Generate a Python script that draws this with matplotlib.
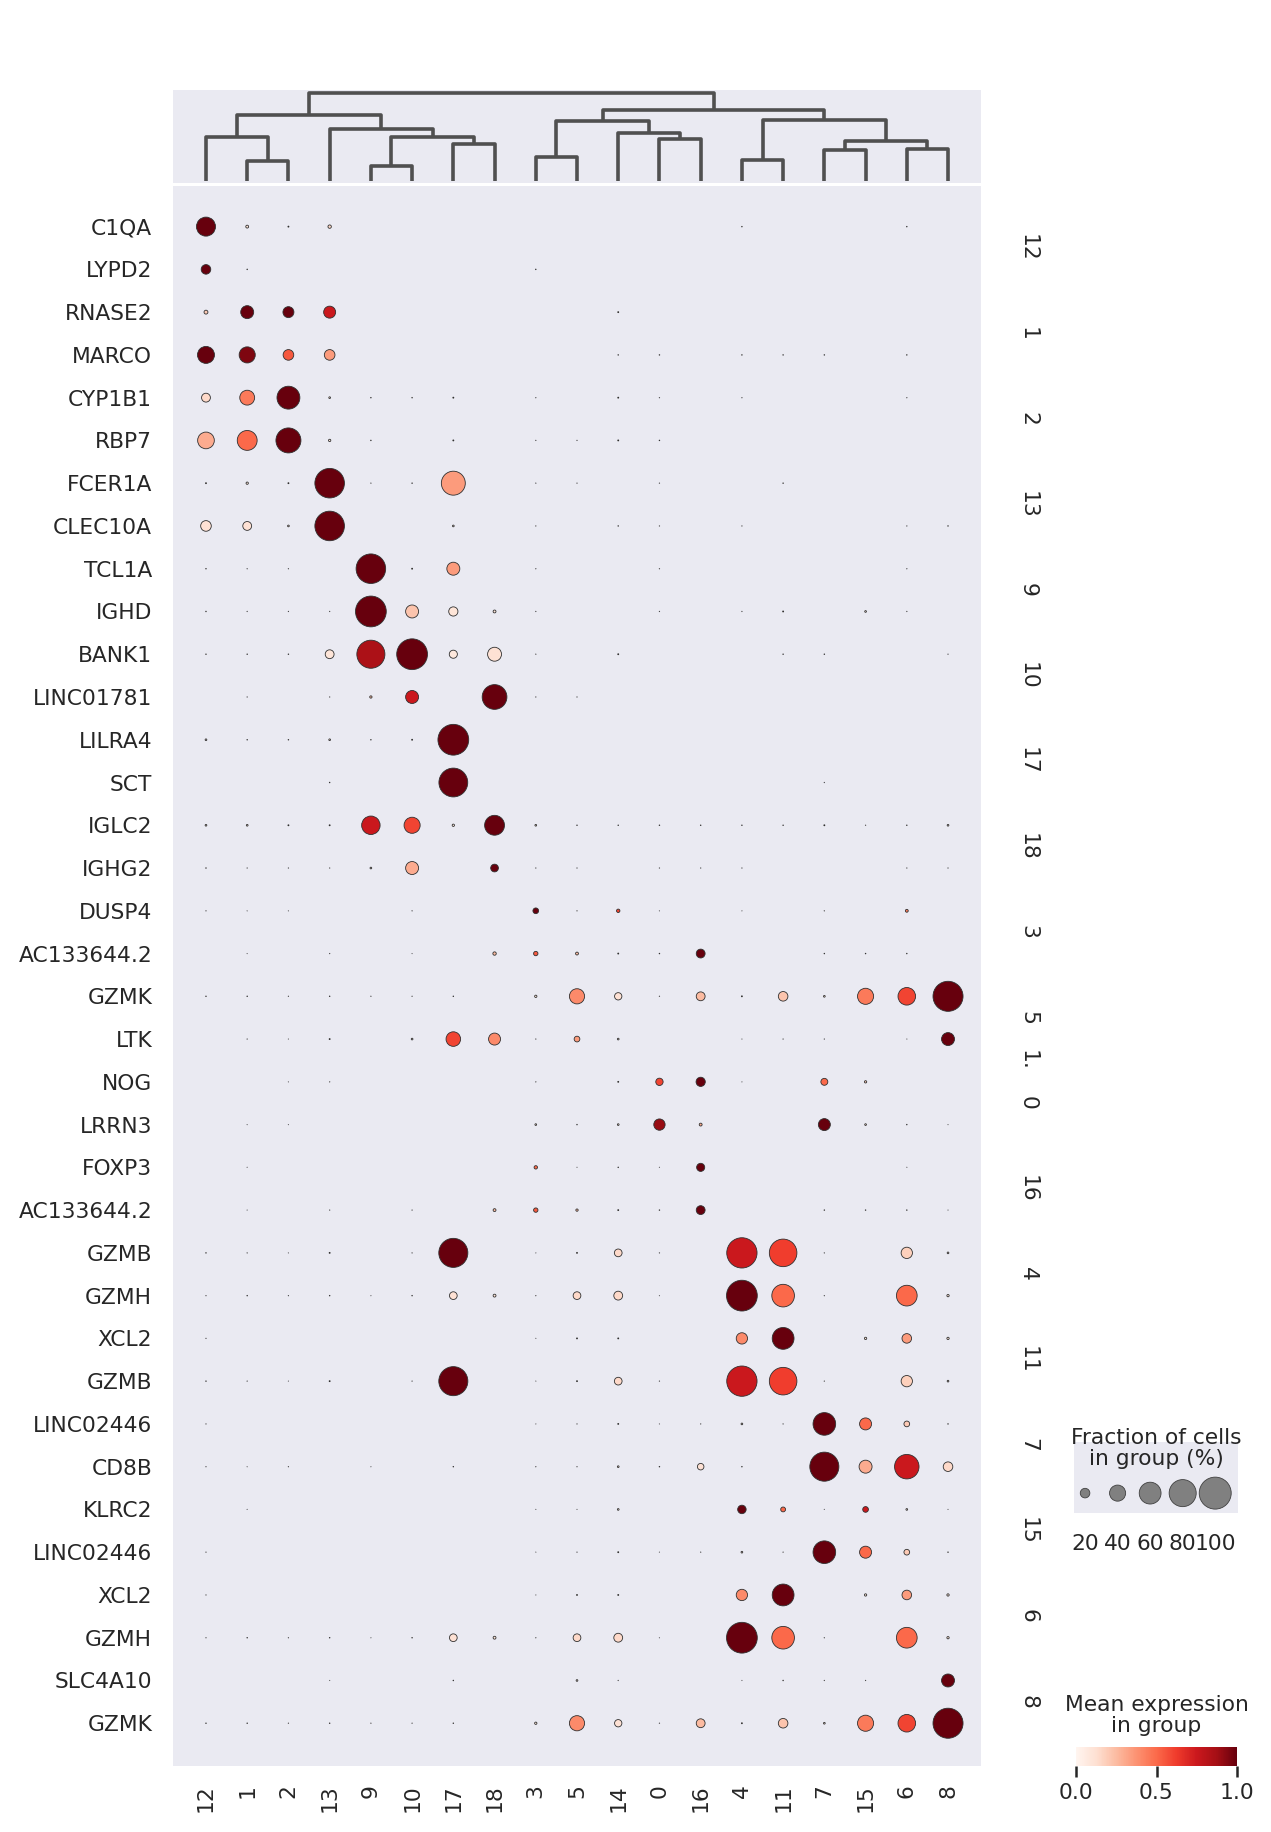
import numpy as np
import matplotlib.pyplot as plt
from matplotlib import cm, colors as mcolors
from matplotlib.transforms import blended_transform_factory

# Data
clusters = ['12', '1', '2', '13', '9', '10', '17', '18', '3', '5',
            '14', '0', '16', '4', '11', '7', '15', '6', '8']

genes = ['C1QA', 'LYPD2', 'RNASE2', 'MARCO', 'CYP1B1', 'RBP7', 'FCER1A', 'CLEC10A',
         'TCL1A', 'IGHD', 'BANK1', 'LINC01781', 'LILRA4', 'SCT', 'IGLC2', 'IGHG2',
         'DUSP4', 'AC133644.2', 'GZMK', 'LTK', 'NOG', 'LRRN3', 'FOXP3', 'AC133644.2',
         'GZMB', 'GZMH', 'XCL2', 'GZMB', 'LINC02446', 'CD8B', 'KLRC2', 'LINC02446',
         'XCL2', 'GZMH', 'SLC4A10', 'GZMK']

# fraction of cells expressing (0-1), columns in the order of `clusters`
fraction = [
    [0.50, 0.04, 0.01, 0.05, 0, 0, 0, 0, 0, 0, 0, 0, 0, 0.005, 0, 0, 0, 0.005, 0],
    [0.20, 0.005, 0, 0, 0, 0, 0, 0, 0.005, 0, 0, 0, 0, 0, 0, 0, 0, 0, 0],
    [0.06, 0.30, 0.24, 0.27, 0, 0, 0, 0, 0, 0, 0.01, 0, 0, 0, 0, 0, 0, 0, 0],
    [0.43, 0.40, 0.23, 0.23, 0, 0, 0, 0, 0, 0, 0.005, 0.005, 0, 0.005, 0.005, 0.005, 0, 0.005, 0],
    [0.18, 0.36, 0.64, 0.02, 0.005, 0.005, 0.01, 0, 0.003, 0, 0.01, 0.003, 0, 0.003, 0, 0, 0, 0.003, 0],
    [0.42, 0.53, 0.72, 0.03, 0.005, 0, 0.01, 0, 0.003, 0.003, 0.01, 0.005, 0, 0, 0, 0, 0, 0, 0],
    [0.01, 0.03, 0.01, 0.90, 0.003, 0.005, 0.68, 0, 0.003, 0.003, 0, 0.003, 0, 0, 0.005, 0, 0, 0, 0],
    [0.23, 0.18, 0.02, 0.90, 0, 0, 0.02, 0, 0.003, 0, 0.005, 0.003, 0, 0.003, 0, 0, 0, 0.003, 0.005],
    [0.005, 0.003, 0.003, 0, 0.90, 0.01, 0.30, 0, 0.003, 0, 0, 0.003, 0, 0, 0, 0, 0, 0.003, 0],
    [0.005, 0.003, 0.003, 0.003, 0.95, 0.30, 0.19, 0.04, 0.003, 0, 0, 0.003, 0, 0.003, 0.01, 0, 0.02, 0.003, 0],
    [0.005, 0.005, 0.005, 0.18, 0.84, 0.95, 0.16, 0.33, 0.003, 0, 0.01, 0, 0, 0, 0.005, 0.005, 0, 0, 0.003],
    [0, 0.003, 0, 0.003, 0.03, 0.30, 0, 0.71, 0.003, 0.003, 0, 0, 0, 0, 0, 0, 0, 0, 0],
    [0.02, 0.005, 0.005, 0.02, 0.005, 0.01, 0.95, 0, 0, 0, 0, 0, 0, 0, 0, 0, 0, 0, 0],
    [0, 0, 0, 0.005, 0, 0, 0.87, 0, 0, 0, 0, 0, 0, 0, 0, 0.003, 0, 0, 0],
    [0.02, 0.02, 0.01, 0.01, 0.48, 0.40, 0.03, 0.53, 0.02, 0.005, 0.005, 0.005, 0.005, 0.005, 0.005, 0.01, 0.003, 0.005, 0.02],
    [0.005, 0.003, 0.003, 0.003, 0.02, 0.30, 0, 0.15, 0.003, 0.003, 0, 0.003, 0.003, 0.003, 0, 0, 0, 0.003, 0.003],
    [0.003, 0.002, 0.002, 0, 0, 0.003, 0, 0, 0.10, 0.003, 0.05, 0.002, 0, 0.002, 0, 0.003, 0, 0.04, 0],
    [0, 0.002, 0, 0.003, 0, 0.002, 0, 0.05, 0.07, 0.04, 0.01, 0.005, 0.18, 0, 0, 0.005, 0.005, 0.005, 0],
    [0.005, 0.005, 0.003, 0.005, 0.003, 0.003, 0.005, 0, 0.03, 0.37, 0.14, 0.003, 0.18, 0.01, 0.20, 0.02, 0.40, 0.45, 0.92],
    [0, 0.003, 0.002, 0.01, 0, 0.02, 0.35, 0.27, 0.003, 0.10, 0.02, 0, 0, 0.002, 0.003, 0.003, 0, 0.002, 0.30],
    [0, 0, 0.002, 0.003, 0, 0, 0, 0, 0.003, 0, 0.01, 0.14, 0.19, 0.002, 0, 0.13, 0.03, 0, 0],
    [0, 0.002, 0.002, 0, 0, 0, 0, 0, 0.02, 0.005, 0.02, 0.25, 0.04, 0, 0, 0.27, 0.02, 0.005, 0.002],
    [0, 0.002, 0, 0, 0, 0, 0, 0, 0.05, 0.002, 0.005, 0.002, 0.16, 0, 0, 0, 0, 0.002, 0],
    [0, 0.002, 0, 0.003, 0, 0.003, 0, 0.04, 0.07, 0.03, 0.01, 0.005, 0.18, 0, 0, 0.005, 0.005, 0.005, 0.002],
    [0.005, 0.003, 0.002, 0.01, 0, 0.003, 0.88, 0, 0.002, 0.01, 0.15, 0.003, 0, 0.93, 0.82, 0.003, 0, 0.25, 0.02],
    [0.003, 0.005, 0.003, 0.005, 0.002, 0.005, 0.15, 0.04, 0.003, 0.15, 0.18, 0.002, 0, 0.95, 0.63, 0.003, 0, 0.56, 0.03],
    [0.003, 0, 0, 0, 0, 0, 0, 0, 0.002, 0.01, 0.01, 0, 0, 0.25, 0.60, 0, 0.03, 0.20, 0.03],
    [0.005, 0.003, 0.002, 0.01, 0, 0.003, 0.88, 0, 0.002, 0.01, 0.15, 0.003, 0, 0.93, 0.82, 0.003, 0, 0.25, 0.02],
    [0.003, 0, 0, 0, 0, 0, 0, 0, 0.002, 0.003, 0.01, 0.002, 0.003, 0.02, 0.003, 0.63, 0.27, 0.10, 0.005],
    [0.003, 0.002, 0.003, 0, 0.002, 0, 0.005, 0, 0.003, 0.003, 0.02, 0.005, 0.12, 0.005, 0, 0.88, 0.30, 0.70, 0.20],
    [0, 0.002, 0, 0, 0, 0, 0, 0, 0.002, 0.002, 0.02, 0, 0, 0.17, 0.08, 0.002, 0.10, 0.02, 0.002],
    [0.003, 0, 0, 0, 0, 0, 0, 0, 0.002, 0.003, 0.01, 0.002, 0.003, 0.02, 0.003, 0.63, 0.27, 0.10, 0.005],
    [0.003, 0, 0, 0, 0, 0, 0, 0, 0.002, 0.01, 0.01, 0, 0, 0.25, 0.60, 0, 0.03, 0.20, 0.03],
    [0.003, 0.005, 0.003, 0.005, 0.002, 0.005, 0.15, 0.04, 0.003, 0.15, 0.18, 0.002, 0, 0.95, 0.63, 0.003, 0, 0.56, 0.03],
    [0, 0, 0, 0.002, 0, 0, 0.005, 0, 0, 0.02, 0.003, 0, 0, 0.002, 0.005, 0.003, 0.003, 0, 0.30],
    [0.005, 0.005, 0.003, 0.005, 0.003, 0.003, 0.005, 0, 0.03, 0.37, 0.14, 0.003, 0.18, 0.01, 0.20, 0.02, 0.40, 0.45, 0.92],
]

# scaled mean expression (0-1)
mean_expr = [
    [1.0, 0.1, 0.05, 0.15, 0, 0, 0, 0, 0, 0, 0, 0, 0, 0.05, 0, 0, 0, 0.05, 0],
    [1.0, 0.05, 0, 0, 0, 0, 0, 0, 0.05, 0, 0, 0, 0, 0, 0, 0, 0, 0, 0],
    [0.2, 1.0, 1.0, 0.75, 0, 0, 0, 0, 0, 0, 0.05, 0, 0, 0, 0, 0, 0, 0, 0],
    [1.0, 0.95, 0.55, 0.35, 0, 0, 0, 0, 0, 0, 0.05, 0.05, 0, 0.05, 0.05, 0.05, 0, 0.05, 0],
    [0.15, 0.45, 1.0, 0.1, 0.05, 0.05, 0.05, 0, 0.05, 0, 0.05, 0.05, 0, 0.05, 0, 0, 0, 0.05, 0],
    [0.3, 0.5, 1.0, 0.1, 0.05, 0, 0.05, 0, 0.05, 0.05, 0.05, 0.05, 0, 0, 0, 0, 0, 0, 0],
    [0.05, 0.1, 0.05, 1.0, 0.05, 0.05, 0.35, 0, 0.05, 0.05, 0, 0.05, 0, 0, 0.05, 0, 0, 0, 0],
    [0.12, 0.12, 0.1, 1.0, 0, 0, 0.1, 0, 0.05, 0, 0.05, 0.05, 0, 0.05, 0, 0, 0, 0.05, 0.05],
    [0.05, 0.05, 0.05, 0, 1.0, 0.05, 0.35, 0, 0.05, 0, 0, 0.05, 0, 0, 0, 0, 0, 0.05, 0],
    [0.05, 0.05, 0.05, 0.05, 1.0, 0.22, 0.1, 0.1, 0.05, 0, 0, 0.05, 0, 0.05, 0.05, 0, 0.05, 0.05, 0],
    [0.05, 0.05, 0.05, 0.1, 0.85, 1.0, 0.08, 0.12, 0.05, 0, 0.05, 0, 0, 0, 0.05, 0.05, 0, 0, 0.05],
    [0, 0.05, 0, 0.05, 0.25, 0.75, 0, 1.0, 0.05, 0.05, 0, 0, 0, 0, 0, 0, 0, 0, 0],
    [0.1, 0.05, 0.05, 0.1, 0.05, 0.05, 1.0, 0, 0, 0, 0, 0, 0, 0, 0, 0, 0, 0, 0],
    [0, 0, 0, 0.05, 0, 0, 1.0, 0, 0, 0, 0, 0, 0, 0, 0, 0.05, 0, 0, 0],
    [0.1, 0.1, 0.05, 0.05, 0.75, 0.6, 0.1, 1.0, 0.1, 0.05, 0.05, 0.05, 0.05, 0.05, 0.05, 0.05, 0.05, 0.05, 0.1],
    [0.05, 0.05, 0.05, 0.05, 0.1, 0.3, 0, 1.0, 0.05, 0.05, 0, 0.05, 0.05, 0.05, 0, 0, 0, 0.05, 0.05],
    [0.05, 0.05, 0.05, 0, 0, 0.05, 0, 0, 1.0, 0.05, 0.6, 0.05, 0, 0.05, 0, 0.05, 0, 0.45, 0],
    [0, 0.05, 0, 0.05, 0, 0.05, 0, 0.25, 0.55, 0.25, 0.05, 0.05, 1.0, 0, 0, 0.05, 0.05, 0.05, 0],
    [0.05, 0.05, 0.05, 0.05, 0.05, 0.05, 0.05, 0, 0.1, 0.4, 0.12, 0.05, 0.25, 0.05, 0.22, 0.1, 0.45, 0.6, 1.0],
    [0, 0.05, 0.05, 0.05, 0, 0.1, 0.6, 0.4, 0.05, 0.35, 0.1, 0, 0, 0.05, 0.05, 0.05, 0, 0.05, 1.0],
    [0, 0, 0.05, 0.05, 0, 0, 0, 0, 0.05, 0, 0.05, 0.6, 1.0, 0.05, 0, 0.5, 0.2, 0, 0],
    [0, 0.05, 0.05, 0, 0, 0, 0, 0, 0.1, 0.05, 0.1, 0.9, 0.3, 0, 0, 1.0, 0.1, 0.05, 0.05],
    [0, 0.05, 0, 0, 0, 0, 0, 0, 0.5, 0.05, 0.05, 0.05, 1.0, 0, 0, 0, 0, 0.05, 0],
    [0, 0.05, 0, 0.05, 0, 0.05, 0, 0.25, 0.55, 0.25, 0.05, 0.05, 1.0, 0, 0, 0.05, 0.05, 0.05, 0.05],
    [0.05, 0.05, 0.05, 0.05, 0, 0.05, 1.0, 0, 0.05, 0.05, 0.15, 0.05, 0, 0.75, 0.62, 0.05, 0, 0.18, 0.1],
    [0.05, 0.05, 0.05, 0.05, 0.05, 0.05, 0.12, 0.1, 0.05, 0.15, 0.15, 0.05, 0, 1.0, 0.5, 0.05, 0, 0.5, 0.1],
    [0.05, 0, 0, 0, 0, 0, 0, 0, 0.05, 0.05, 0.05, 0, 0, 0.4, 1.0, 0, 0.1, 0.35, 0.1],
    [0.05, 0.05, 0.05, 0.05, 0, 0.05, 1.0, 0, 0.05, 0.05, 0.15, 0.05, 0, 0.75, 0.62, 0.05, 0, 0.18, 0.1],
    [0.05, 0, 0, 0, 0, 0, 0, 0, 0.05, 0.05, 0.05, 0.05, 0.05, 0.1, 0.05, 1.0, 0.5, 0.2, 0.05],
    [0.05, 0.05, 0.05, 0, 0.05, 0, 0.05, 0, 0.05, 0.05, 0.1, 0.05, 0.12, 0.05, 0, 1.0, 0.3, 0.75, 0.15],
    [0, 0.05, 0, 0, 0, 0, 0, 0, 0.05, 0.05, 0.1, 0, 0, 1.0, 0.5, 0.05, 0.75, 0.1, 0.05],
    [0.05, 0, 0, 0, 0, 0, 0, 0, 0.05, 0.05, 0.05, 0.05, 0.05, 0.1, 0.05, 1.0, 0.5, 0.2, 0.05],
    [0.05, 0, 0, 0, 0, 0, 0, 0, 0.05, 0.05, 0.05, 0, 0, 0.4, 1.0, 0, 0.1, 0.35, 0.1],
    [0.05, 0.05, 0.05, 0.05, 0.05, 0.05, 0.12, 0.1, 0.05, 0.15, 0.15, 0.05, 0, 1.0, 0.5, 0.05, 0, 0.5, 0.1],
    [0, 0, 0, 0.05, 0, 0, 0.05, 0, 0, 0.1, 0.05, 0, 0, 0.05, 0.05, 0.05, 0.05, 0, 1.0],
    [0.05, 0.05, 0.05, 0.05, 0.05, 0.05, 0.05, 0, 0.1, 0.4, 0.12, 0.05, 0.25, 0.05, 0.22, 0.1, 0.45, 0.6, 1.0],
]

# marker-gene groups (label, first row, last row)
group_labels = ['12', '1', '2', '13', '9', '10', '17', '18', '3', '5',
                '14', '0', '16', '4', '11', '7', '15', '6', '8']
group_spans = [(0, 1), (2, 3), (4, 5), (6, 7), (8, 9), (10, 11), (12, 13), (14, 15),
               (16, 17), (18, 19), (19.25, 19.75), (20, 21), (22, 23), (24, 25),
               (26, 27), (28, 29), (30, 31), (32, 33), (34, 35)]

# dendrogram merges: (node a, node b, height); leaves 0..18, merged nodes from 19
dendro_merges = [
    (1, 2, 60), (0, 19, 132), (4, 5, 46), (6, 7, 113), (21, 22, 132),
    (3, 23, 157), (20, 24, 198), (8, 9, 73), (11, 12, 127), (10, 27, 145),
    (26, 28, 181), (13, 14, 63), (15, 16, 94), (17, 18, 97), (31, 32, 121),
    (30, 33, 184), (29, 34, 213), (25, 35, 263),
]

legend_fracs = [0.2, 0.4, 0.6, 0.8, 1.0]
legend_labels = ['20', '40', '60', '80', '100']

# Style
W, H = 1271, 1832
BG = '#EAEAF2'
TXT = '#262626'
FS = 15.7
MAX_S = 530

fig = plt.figure(figsize=(W / 100, H / 100), dpi=100)


def px_axes(left, top, right, bottom):
    return fig.add_axes([left / W, 1 - bottom / H, (right - left) / W, (bottom - top) / H])


def clean(a):
    a.set_facecolor(BG)
    for s in a.spines.values():
        s.set_visible(False)
    a.grid(False)


# Main dot plot
ax = px_axes(173, 186, 981, 1766)
clean(ax)
frac = np.array(fraction)
expr = np.array(mean_expr)
X, Y = np.meshgrid(np.arange(len(clusters)), np.arange(len(genes)))
mask = frac > 0
ax.scatter(X[mask], Y[mask], s=frac[mask] ** 1.5 * MAX_S, c=expr[mask], cmap='Reds',
           vmin=0, vmax=1, edgecolors='#303030', linewidths=0.6, zorder=3)
ax.set_xlim(-0.8, len(clusters) - 0.2)
ax.set_ylim(len(genes), -0.95)
ax.set_xticks(np.arange(len(clusters)))
ax.set_xticklabels(clusters, rotation=90, fontsize=FS, color=TXT)
ax.set_yticks(np.arange(len(genes)))
ax.set_yticklabels(genes, fontsize=FS, color=TXT)
ax.tick_params(axis='x', length=0, pad=13)
ax.tick_params(axis='y', length=0, pad=15)

# group labels on the right
trans = blended_transform_factory(fig.transFigure, ax.transData)
for lab, (a, b) in zip(group_labels, group_spans):
    diff = b - a
    if diff * 2 < len(lab):
        lab = lab[:int(diff * 2)] + '.'
    ax.text(1028 / W, (a + b) / 2, lab, transform=trans, rotation=270,
            ha='center', va='center', fontsize=FS, color=TXT)

# Dendrogram
dax = px_axes(173, 90, 981, 183)
clean(dax)
n = len(clusters)
node_x = {i: float(i) for i in range(n)}
node_h = {i: 0.0 for i in range(n)}
for k, (a, b, h) in enumerate(dendro_merges):
    dax.plot([node_x[a], node_x[a], node_x[b], node_x[b]],
             [node_h[a], h, h, node_h[b]], color='#505050', lw=2.6,
             solid_capstyle='butt')
    node_x[n + k] = (node_x[a] + node_x[b]) / 2
    node_h[n + k] = h
dax.set_xlim(-0.8, n - 0.2)
dax.set_ylim(-5, 273)
dax.set_xticks([])
dax.set_yticks([])

# Size legend
sax = px_axes(1074, 1442, 1238, 1513)
clean(sax)
lx = np.arange(len(legend_fracs)) + 0.5
sax.scatter(lx, np.zeros(len(lx)), s=np.array(legend_fracs) ** 1.5 * MAX_S,
            color='#808080', edgecolors='#404040', linewidths=0.6, zorder=3)
sax.set_xlim(0.16, 5.2)
sax.set_ylim(-0.28, 0.72)
sax.set_yticks([])
sax.set_xticks(lx)
sax.set_xticklabels(legend_labels, fontsize=FS, color=TXT)
sax.tick_params(axis='x', length=0, pad=15)
sax.text(0.5, 0.62, 'Fraction of cells\nin group (%)', transform=sax.transAxes,
         ha='center', va='bottom', multialignment='center', fontsize=FS, color=TXT,
         linespacing=1.05)

# Colorbar
cax = px_axes(1076, 1747, 1237, 1766)
sm = cm.ScalarMappable(norm=mcolors.Normalize(0, 1), cmap='Reds')
cb = fig.colorbar(sm, cax=cax, orientation='horizontal', ticks=[0, 0.5, 1.0])
cb.outline.set_visible(False)
cax.set_xticklabels(['0.0', '0.5', '1.0'], fontsize=FS, color=TXT)
cax.tick_params(axis='x', length=8, width=1.8, color=TXT, pad=4)
cax.set_title('Mean expression\nin group', fontsize=FS, color=TXT, pad=11,
              linespacing=1.05)

fig.savefig('out.png', dpi=100, facecolor='white')
